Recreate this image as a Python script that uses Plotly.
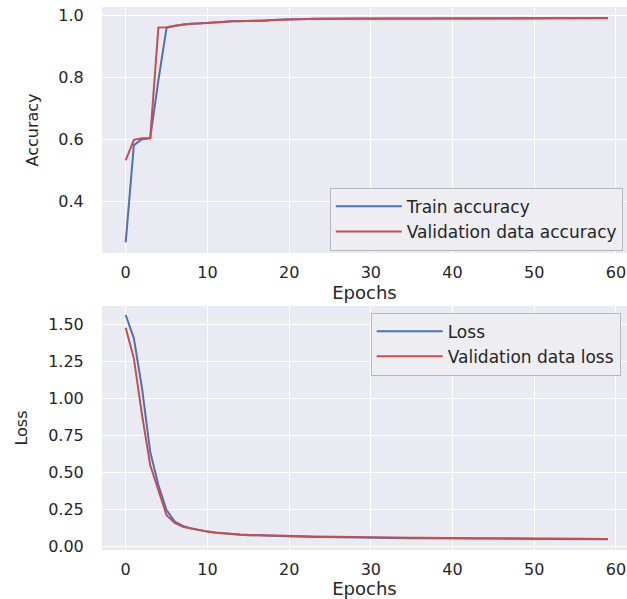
import plotly.graph_objects as go
from plotly.subplots import make_subplots

epochs = list(range(60))

train_acc = [0.269, 0.582, 0.601, 0.604, 0.790, 0.959, 0.965, 0.970, 0.972, 0.973,
             0.975, 0.976, 0.978, 0.980, 0.980, 0.981, 0.981, 0.982, 0.984, 0.986,
             0.987, 0.987, 0.988, 0.988, 0.988, 0.988, 0.989, 0.989, 0.989, 0.989,
             0.989, 0.989, 0.989, 0.990, 0.990, 0.990, 0.990, 0.990, 0.990, 0.990,
             0.990, 0.990, 0.990, 0.990, 0.990, 0.990, 0.990, 0.990, 0.990, 0.990,
             0.991, 0.991, 0.991, 0.991, 0.991, 0.991, 0.991, 0.991, 0.991, 0.991]

val_acc = [0.533, 0.599, 0.604, 0.605, 0.960, 0.961, 0.966, 0.970, 0.972, 0.973,
           0.975, 0.976, 0.978, 0.980, 0.980, 0.981, 0.981, 0.982, 0.984, 0.986,
           0.987, 0.987, 0.988, 0.988, 0.988, 0.988, 0.989, 0.989, 0.989, 0.989,
           0.989, 0.989, 0.989, 0.989, 0.990, 0.990, 0.990, 0.990, 0.990, 0.990,
           0.990, 0.990, 0.990, 0.990, 0.990, 0.990, 0.990, 0.990, 0.990, 0.990,
           0.990, 0.990, 0.990, 0.990, 0.990, 0.990, 0.990, 0.990, 0.990, 0.990]

train_loss = [1.562, 1.405, 1.068, 0.640, 0.416, 0.247, 0.169, 0.140, 0.124, 0.112,
              0.102, 0.095, 0.089, 0.085, 0.081, 0.078, 0.076, 0.074, 0.072, 0.070,
              0.069, 0.068, 0.067, 0.066, 0.065, 0.064, 0.063, 0.063, 0.062, 0.061,
              0.061, 0.060, 0.060, 0.059, 0.059, 0.058, 0.058, 0.057, 0.057, 0.057,
              0.056, 0.056, 0.055, 0.055, 0.055, 0.054, 0.054, 0.054, 0.053, 0.053,
              0.053, 0.052, 0.052, 0.052, 0.051, 0.051, 0.051, 0.050, 0.050, 0.050]

val_loss = [1.477, 1.270, 0.888, 0.551, 0.382, 0.213, 0.160, 0.135, 0.122, 0.111,
            0.102, 0.096, 0.090, 0.086, 0.083, 0.080, 0.078, 0.076, 0.074, 0.073,
            0.072, 0.071, 0.070, 0.069, 0.068, 0.067, 0.066, 0.066, 0.065, 0.064,
            0.064, 0.063, 0.063, 0.062, 0.062, 0.061, 0.061, 0.060, 0.060, 0.060,
            0.059, 0.059, 0.058, 0.058, 0.058, 0.057, 0.057, 0.057, 0.056, 0.056,
            0.056, 0.055, 0.055, 0.055, 0.054, 0.054, 0.054, 0.053, 0.053, 0.053]

BLUE = "#4C72B0"
RED = "#C44E52"
BG = "#EAEAF2"
TXT = "#262626"
FONT = "DejaVu Sans"

fig = make_subplots(rows=2, cols=1)

fig.add_trace(go.Scatter(x=epochs, y=train_acc, mode="lines", name="Train accuracy",
                         line=dict(color=BLUE, width=2), legend="legend"), row=1, col=1)
fig.add_trace(go.Scatter(x=epochs, y=val_acc, mode="lines", name="Validation data accuracy",
                         line=dict(color=RED, width=2), legend="legend"), row=1, col=1)
fig.add_trace(go.Scatter(x=epochs, y=train_loss, mode="lines", name="Loss",
                         line=dict(color=BLUE, width=2), legend="legend2"), row=2, col=1)
fig.add_trace(go.Scatter(x=epochs, y=val_loss, mode="lines", name="Validation data loss",
                         line=dict(color=RED, width=2), legend="legend2"), row=2, col=1)

xcommon = dict(range=[-2.9, 61.35], dtick=10, tick0=0, showgrid=True, gridcolor="white",
               gridwidth=1.3, zeroline=False, showline=False, ticks="outside", ticklen=5,
               tickcolor="rgba(0,0,0,0)", tickfont=dict(family=FONT, size=16, color=TXT),
               title=dict(text="Epochs", font=dict(family=FONT, size=18, color=TXT), standoff=0))

ycommon = dict(showgrid=True, gridcolor="white", gridwidth=1.3, zeroline=False, showline=False,
               ticks="outside", ticklen=14, tickcolor="rgba(0,0,0,0)", automargin=True,
               tickfont=dict(family=FONT, size=16, color=TXT))

legend_common = dict(bgcolor="#EDEDF2", bordercolor="#b8b8b8", borderwidth=1,
                     font=dict(family=FONT, size=17, color=TXT), tracegroupgap=0,
                     itemwidth=66)

fig.update_layout(
    width=627, height=599,
    paper_bgcolor="white", plot_bgcolor=BG,
    margin=dict(l=102, r=0, t=7, b=49),
    font=dict(family=FONT, color=TXT),
    xaxis=dict(domain=[0, 1], anchor="y", **xcommon),
    xaxis2=dict(domain=[0, 1], anchor="y2", **xcommon),
    yaxis=dict(domain=[0.547, 1.0], range=[0.235, 1.026], dtick=0.2, tick0=0,
               tickformat=".1f",
               title=dict(text="Accuracy", font=dict(family=FONT, size=16, color=TXT), standoff=15),
               **ycommon),
    yaxis2=dict(domain=[0.0, 0.4494], range=[-0.022, 1.623], dtick=0.25, tick0=0,
                tickformat=".2f",
                title=dict(text="Loss", font=dict(family=FONT, size=16, color=TXT), standoff=16),
                **ycommon),
    legend=dict(x=0.992, xanchor="right", y=0.551, yanchor="bottom", **legend_common),
    legend2=dict(x=0.988, xanchor="right", y=0.437, yanchor="top", **legend_common),
    showlegend=True,
)

fig.write_html("out.html", config={"displayModeBar": False},
               post_script="document.body.style.margin='0';document.body.style.overflow='hidden';")
